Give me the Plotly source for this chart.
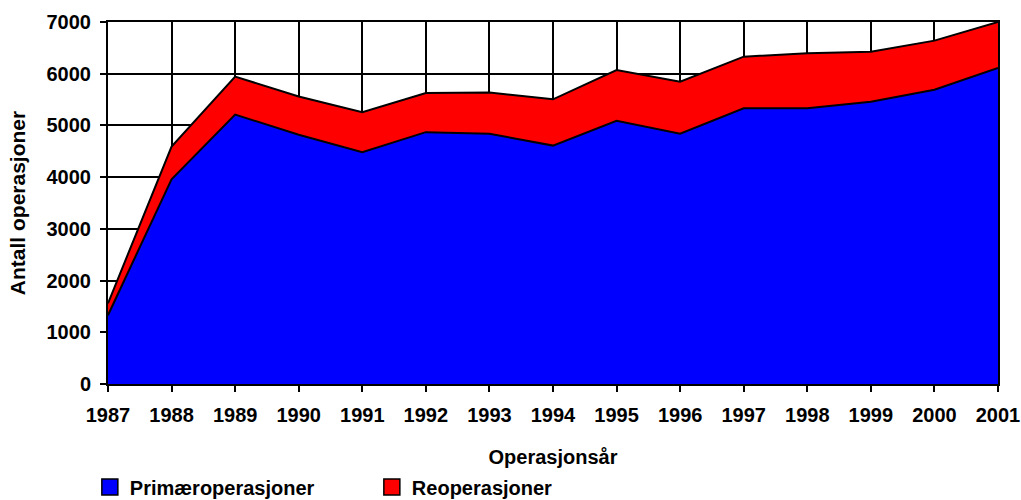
import plotly.graph_objects as go

years = [1987, 1988, 1989, 1990, 1991, 1992, 1993, 1994, 1995, 1996, 1997, 1998, 1999, 2000, 2001]
primaer = [1330, 3960, 5210, 4820, 4480, 4870, 4840, 4610, 5090, 4840, 5330, 5330, 5460, 5690, 6110]
reop = [230, 630, 735, 740, 775, 755, 795, 895, 980, 1005, 1000, 1065, 965, 950, 890]
series_names = ["Primæroperasjoner", "Reoperasjoner"]
series_colors = ["#0000FF", "#FF0000"]
y_ticks = [0, 1000, 2000, 3000, 4000, 5000, 6000, 7000]

FONT = "Liberation Sans, Arial, sans-serif"

fig = go.Figure()
for name, vals, col in zip(series_names, [primaer, reop], series_colors):
    fig.add_trace(go.Scatter(
        x=years, y=vals, name=name, mode="lines", stackgroup="one",
        line=dict(color="black", width=2), fillcolor=col, showlegend=False,
        hoverinfo="x+y+name",
    ))
for name, col in zip(series_names, series_colors):
    fig.add_trace(go.Scatter(
        x=[None], y=[None], name=name, mode="markers",
        marker=dict(symbol="square", size=16, color=col, line=dict(color="black", width=1.5)),
        showlegend=True,
    ))

fig.update_layout(
    width=1021, height=500,
    margin=dict(l=108, r=23, t=22, b=116),
    paper_bgcolor="white", plot_bgcolor="white",
    font=dict(family=FONT, size=20, color="black", weight="bold"),
    showlegend=True,
    legend=dict(
        orientation="h", xref="container", yref="container",
        x=0.088, y=0.026, xanchor="left", yanchor="middle",
        font=dict(size=20, weight="bold"),
        itemsizing="trace", entrywidth=237, entrywidthmode="pixels",
        traceorder="normal",
        bgcolor="rgba(0,0,0,0)",
    ),
    xaxis=dict(
        range=[1987, 2001], tickmode="array", tickvals=years,
        ticktext=[str(y) for y in years],
        showgrid=True, gridcolor="black", gridwidth=1.5,
        showline=True, linecolor="black", linewidth=2, mirror=True,
        ticks="outside", ticklen=6, tickcolor="black", tickwidth=1.5,
        ticklabelstandoff=6,
        tickfont=dict(size=20, weight="bold"),
        title=dict(text="Operasjonsår", font=dict(size=20, weight="bold"), standoff=30),
        zeroline=False, automargin=False,
    ),
    yaxis=dict(
        range=[0, 7000], tickmode="array", tickvals=y_ticks,
        showgrid=True, gridcolor="black", gridwidth=1.5,
        showline=True, linecolor="black", linewidth=2, mirror=True,
        ticks="outside", ticklen=6, tickcolor="black", tickwidth=1.5,
        ticklabelstandoff=5,
        tickfont=dict(size=20, weight="bold"),
        title=dict(text="Antall operasjoner", font=dict(size=21, weight="bold"), standoff=15),
        zeroline=False, automargin=False,
    ),
)

fig.write_html("out.html", config={"displayModeBar": False},
               post_script="document.body.style.margin='0';document.body.style.overflow='hidden';")
